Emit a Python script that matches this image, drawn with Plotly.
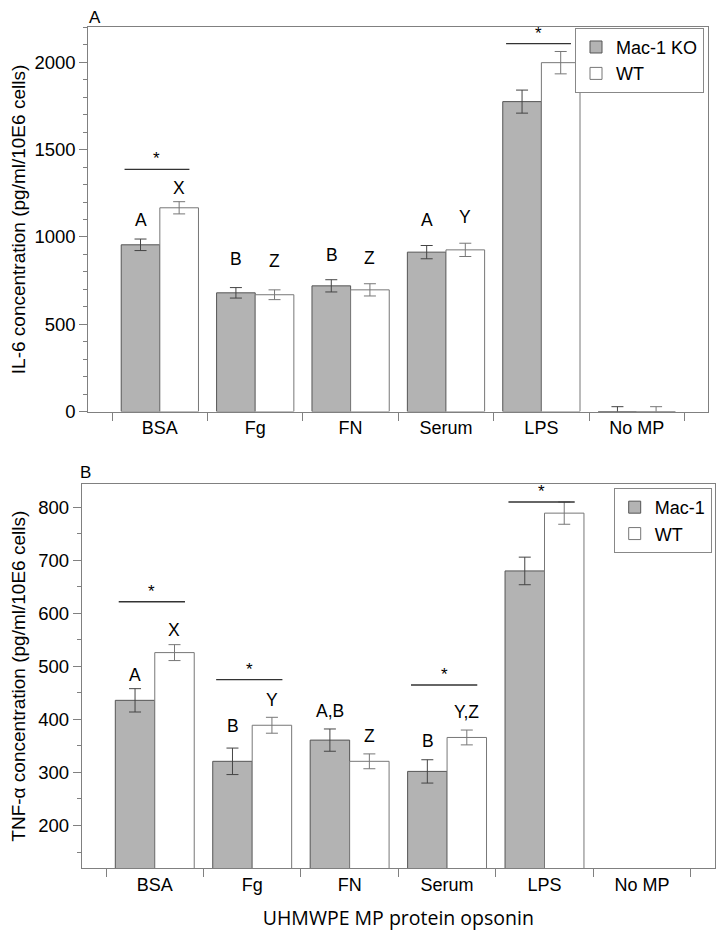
import plotly.graph_objects as go

# ---------------- data ----------------
categories = ["BSA", "Fg", "FN", "Serum", "LPS", "No MP"]

il6_ko = [955, 680, 720, 913, 1775, 0]
il6_ko_err = [33, 30, 35, 38, 66, 28]
il6_wt = [1167, 669, 697, 926, 1998, 0]
il6_wt_err = [35, 28, 35, 38, 64, 28]

tnf_ko = [436, 321, 361, 302, 680, 0]
tnf_ko_err = [22, 25, 21, 22, 26, 0]
tnf_wt = [526, 389, 321, 366, 789, 0]
tnf_wt_err = [15, 15, 14, 14, 21, 0]

# group letters (text) and their heights
il6_ko_letters = ["A", "B", "B", "A"]
il6_ko_letter_y = [1095, 871, 894, 1095]
il6_wt_letters = ["X", "Z", "Z", "Y"]
il6_wt_letter_y = [1278, 860, 882, 1112]

tnf_ko_letters = ["A", "B", "A,B", "B"]
tnf_ko_letter_y = [483, 387, 416, 360]
tnf_wt_letters = ["X", "Y", "Z", "Y,Z"]
tnf_wt_letter_y = [568, 436, 368, 414]

# significance bars
il6_sig_cats = ["BSA", "LPS"]
il6_sig_y = [1387, 2107]
tnf_sig_cats = ["BSA", "Fg", "Serum", "LPS"]
tnf_sig_y = [622, 475, 465, 810]

# ---------------- geometry / style ----------------
X_OFF = 8
Y_OFF, Y_SCALE = 7.93, 0.988
W, H = 725 - 2 * X_OFF, 929


def px_x(x):
    return (x - X_OFF) / W


def px_y(y):
    return 1 - ((y - Y_OFF) / Y_SCALE) / H


FONT = "Liberation Sans, Arial, Helvetica, sans-serif"
GRAY_FILL = "#b3b3b3"
AX = "#808080"

fig = go.Figure()


def add_pair(ko, ko_err, wt, wt_err, ko_name, xa, ya, leg):
    fig.add_trace(go.Bar(
        x=categories, y=ko, name=ko_name, xaxis=xa, yaxis=ya, legend=leg,
        marker=dict(color=GRAY_FILL, line=dict(color="#555555", width=1)),
        error_y=dict(type="data", array=ko_err, color="#444444", thickness=1, width=6),
    ))
    fig.add_trace(go.Bar(
        x=categories, y=wt, name="WT", xaxis=xa, yaxis=ya, legend=leg,
        marker=dict(color="white", line=dict(color="#777777", width=1)),
        error_y=dict(type="data", array=wt_err, color="#777777", thickness=1, width=6),
    ))


add_pair(il6_ko, il6_ko_err, il6_wt, il6_wt_err, "Mac-1 KO", "x", "y", "legend")
add_pair(tnf_ko, tnf_ko_err, tnf_wt, tnf_wt_err, "Mac-1", "x2", "y2", "legend2")


def add_letters(letters, ys, shift, xref, yref):
    for i, (t, y) in enumerate(zip(letters, ys)):
        fig.add_annotation(x=i + shift, y=y, xref=xref, yref=yref, text=t,
                           showarrow=False, xanchor="center", yanchor="middle",
                           font=dict(family=FONT, size=17.5, color="black"))


add_letters(il6_ko_letters, il6_ko_letter_y, -0.2, "x", "y")
add_letters(il6_wt_letters, il6_wt_letter_y, 0.2, "x", "y")
add_letters(tnf_ko_letters, tnf_ko_letter_y, -0.2, "x2", "y2")
add_letters(tnf_wt_letters, tnf_wt_letter_y, 0.2, "x2", "y2")


def add_sig(cats, ys, xref, yref):
    for c, y in zip(cats, ys):
        i = categories.index(c)
        fig.add_shape(type="line", xref=xref, yref=yref, x0=i - 0.37, x1=i + 0.31,
                      y0=y, y1=y, line=dict(color="#333333", width=1.4))
        fig.add_annotation(x=i - 0.03, y=y, xref=xref, yref=yref, text="*",
                           showarrow=False, xanchor="center", yanchor="bottom", yshift=-1,
                           font=dict(family=FONT, size=17, color="black"))


add_sig(il6_sig_cats, il6_sig_y, "x", "y")
add_sig(tnf_sig_cats, tnf_sig_y, "x2", "y2")

# panel letters
fig.add_annotation(x=px_x(95), y=px_y(17), xref="paper", yref="paper", text="A",
                   showarrow=False, xanchor="center", yanchor="middle",
                   font=dict(family=FONT, size=17, color="black"))
fig.add_annotation(x=px_x(85), y=px_y(472), xref="paper", yref="paper", text="B",
                   showarrow=False, xanchor="center", yanchor="middle",
                   font=dict(family=FONT, size=17, color="black"))

xcommon = dict(type="category", categoryorder="array", categoryarray=categories,
               range=[-0.75, 5.75], tickson="boundaries", ticks="outside", ticklen=8,
               tickcolor=AX, showline=True, linecolor=AX, linewidth=1, mirror=True,
               showgrid=False, zeroline=False,
               tickfont=dict(family=FONT, size=18, color="black"))
ycommon = dict(ticks="outside", ticklen=8, tickcolor=AX, showline=True, linecolor=AX,
               linewidth=1, mirror=True, showgrid=False, zeroline=False,
               tickfont=dict(family=FONT, size=18.5, color="black"))

fig.update_layout(
    width=W, height=H,
    margin=dict(l=0, r=0, t=0, b=0),
    paper_bgcolor="white", plot_bgcolor="white",
    barmode="group", bargap=0.19, bargroupgap=0,
    font=dict(family=FONT, color="black"),
    xaxis=dict(domain=[px_x(88.3), px_x(708.3)], anchor="y", **xcommon),
    yaxis=dict(domain=[px_y(411), px_y(27.3)], anchor="x", range=[0, 2200],
               tickmode="linear", tick0=0, dtick=500,
               minor=dict(ticks="outside", dtick=100, ticklen=4, tickcolor=AX),
               title=dict(text="IL-6 concentration (pg/ml/10E6 cells)", standoff=8,
                          font=dict(family=FONT, size=19, color="black")),
               **ycommon),
    xaxis2=dict(domain=[px_x(81.7), px_x(715)], anchor="y2",
                title=dict(text="UHMWPE MP protein opsonin", standoff=17,
                           font=dict(family="Open Sans, Noto Sans, sans-serif", size=19.5,
                                     color="black")),
                **xcommon),
    yaxis2=dict(domain=[px_y(867.3), px_y(483.3)], anchor="x2", range=[119, 844],
                tickmode="linear", tick0=0, dtick=100,
                minor=dict(ticks="outside", dtick=50, ticklen=4, tickcolor=AX),
                title=dict(text="TNF-α concentration (pg/ml/10E6 cells)", standoff=8,
                           font=dict(family=FONT, size=19, color="black")),
                **ycommon),
    legend=dict(x=px_x(704), y=px_y(27.7), xanchor="right", yanchor="top",
                bgcolor="white", bordercolor="#888888", borderwidth=1,
                font=dict(family=FONT, size=18, color="black"), tracegroupgap=0),
    legend2=dict(x=px_x(711.7), y=px_y(487.3), xanchor="right", yanchor="top",
                 bgcolor="white", bordercolor="#888888", borderwidth=1,
                 font=dict(family=FONT, size=18, color="black"), tracegroupgap=0),
    showlegend=True,
)

fig.write_html("out.html")
